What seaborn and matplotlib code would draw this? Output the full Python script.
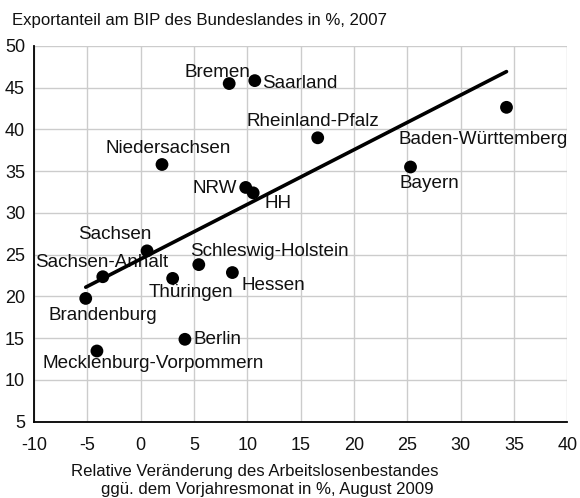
import numpy as np
import pandas as pd
import matplotlib
matplotlib.use("Agg")
from matplotlib import pyplot as plt
import seaborn as sns

# data
laender = ["Bremen", "Saarland", "Rheinland-Pfalz", "Baden-Württemberg", "Bayern",
           "Niedersachsen", "NRW", "HH", "Sachsen", "Sachsen-Anhalt", "Brandenburg",
           "Thüringen", "Schleswig-Holstein", "Hessen", "Berlin", "Mecklenburg-Vorpommern"]
arbeitslose = [8.3, 10.7, 16.6, 34.3, 25.3, 2.0, 9.85, 10.55, 0.6, -3.55, -5.15,
               3.0, 5.45, 8.6, 4.15, -4.1]
exportanteil = [45.5, 45.85, 39.0, 42.65, 35.5, 35.8, 33.05, 32.4, 25.45, 22.35, 19.75,
                22.15, 23.8, 22.85, 14.85, 13.45]

# label offsets (pixels, centre of text relative to point)
offsets = [(-12, 11), (45, -3), (-5, 16), (-23, -32), (19, -17), (6, 16), (-31, -1),
           (25, -11), (-32, 16), (-1, 14), (17, -17), (18, -14), (71, 13), (41, -13),
           (33, 0), (56, -13)]

df = pd.DataFrame({"land": laender, "x": arbeitslose, "y": exportanteil})

sns.set_style("white")
plt.rcParams["font.family"] = ["Liberation Sans", "DejaVu Sans"]
plt.rcParams["axes.unicode_minus"] = False

fig = plt.figure(figsize=(5.8, 4.98), dpi=100)
ax = fig.add_axes([34 / 580, 1 - 421.5 / 498, (567.3 - 34) / 580, (421.5 - 46) / 498])

sns.regplot(data=df, x="x", y="y", scatter=False, ci=None, ax=ax,
            line_kws={"color": "black", "lw": 2.6, "zorder": 4})
sns.scatterplot(data=df, x="x", y="y", color="black", s=85, edgecolor="none",
                ax=ax, zorder=5)

for (name, xv, yv), (dx, dy) in zip(zip(laender, arbeitslose, exportanteil), offsets):
    ax.annotate(name, (xv, yv), xytext=(dx, dy), textcoords="offset pixels",
                ha="center", va="center", fontsize=13.6, color="#111111", zorder=3)

ax.set_xlim(-10, 40)
ax.set_ylim(5, 50)
ax.set_xticks(np.arange(-10, 41, 5))
ax.set_yticks(np.arange(5, 51, 5))
ax.grid(True, color="#cccccc", lw=1)
ax.set_axisbelow(True)
for s in ["top", "right"]:
    ax.spines[s].set_visible(False)
for s in ["left", "bottom"]:
    ax.spines[s].set_color("black")
    ax.spines[s].set_linewidth(1.3)
ax.tick_params(direction="out", length=3.5, width=1.2, color="black",
               labelsize=13, labelcolor="#111111")
ax.tick_params(axis="x", pad=8)
ax.tick_params(axis="y", pad=3)
ax.set_xlabel("")
ax.set_ylabel("")

fig.text(12 / 580, 1 - 21 / 498, "Exportanteil am BIP des Bundeslandes in %, 2007",
         ha="left", va="center", fontsize=12.1, color="#111111")
fig.text(255 / 580, 1 - 471 / 498, "Relative Veränderung des Arbeitslosenbestandes",
         ha="center", va="center", fontsize=12.1, color="#111111")
fig.text(267 / 580, 1 - 489 / 498, "ggü. dem Vorjahresmonat in %, August 2009",
         ha="center", va="center", fontsize=12.1, color="#111111")

fig.savefig("out.png", dpi=100)
